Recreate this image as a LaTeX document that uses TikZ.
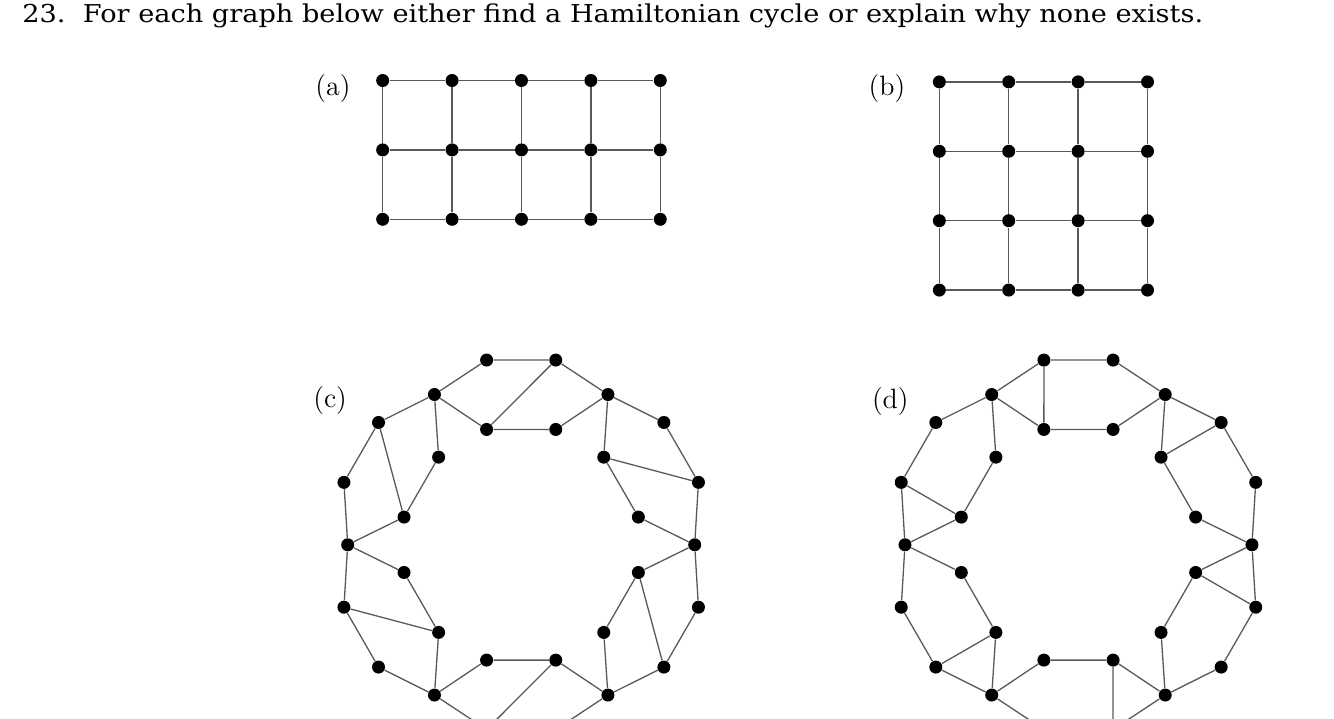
\documentclass[tikz,border=0pt]{standalone}
\usepackage{fontspec}
\newfontfamily\titlefont[FakeStretch=1.105]{DejaVu Serif}

\begin{document}
\begin{tikzpicture}[
    x=34.7pt, y=34.7pt,
    vertex/.style={circle, fill=black, inner sep=0pt, minimum size=6.5pt},
    edge/.style={draw=black!65, line width=0.65pt},
    every node/.style={font=\fontsize{14}{16}\selectfont}
]
\useasboundingbox (0,0) rectangle (19.222,10.360);
\clip (0,0) rectangle (19.222,10.360);

% Question
\node[anchor=base west, inner sep=0pt, font=\titlefont\fontsize{12.3}{14}\selectfont]
    (title) at (0.317,10.036)
    {23.\ \ For each graph below either find a Hamiltonian cycle or explain why none exists.};

% Part labels
\node[anchor=base west, inner sep=0pt] (la) at (4.54,8.977) {(a)};
\node[anchor=base west, inner sep=0pt] (lb) at (12.51,8.977) {(b)};
\node[anchor=base west, inner sep=0pt] (lc) at (4.51,4.481) {(c)};
\node[anchor=base west, inner sep=0pt] (ld) at (12.56,4.477) {(d)};

% (a) 5 x 3 grid
\foreach \i in {0,...,4}
  \foreach \j in {0,...,2}
    \node[vertex] (a-\i-\j) at (5.514+\i,7.2+\j) {};
\foreach \i in {0,...,3} {
  \pgfmathtruncatemacro\k{\i+1}
  \foreach \j in {0,...,2}
    \draw[edge] (a-\i-\j) -- (a-\k-\j);
}
\foreach \i in {0,...,4}
  \foreach \j in {0,1} {
    \pgfmathtruncatemacro\k{\j+1}
    \draw[edge] (a-\i-\j) -- (a-\i-\k);
  }

% (b) 4 x 4 grid
\foreach \i in {0,...,3}
  \foreach \j in {0,...,3}
    \node[vertex] (b-\i-\j) at (13.535+\i,6.18+\j) {};
\foreach \i in {0,...,2} {
  \pgfmathtruncatemacro\k{\i+1}
  \foreach \j in {0,...,3} {
    \draw[edge] (b-\i-\j) -- (b-\k-\j);
    \draw[edge] (b-\j-\i) -- (b-\j-\k);
  }
}

% (c) and (d): six hubs, a hexagon between each pair, one chord each
\foreach \r/\cx/\ch in {c/7.51/l, d/15.54/h} {
  \begin{scope}[shift={(\cx,2.51)}]
    \foreach \i in {0,...,5} {
      \pgfmathsetmacro\t{60*\i+30}
      \node[vertex] (\r-h\i) at (\t-30:2.5) {};
      \node[vertex] (\r-ol\i) at (\t-10.6:2.708) {};
      \node[vertex] (\r-oh\i) at (\t+10.6:2.708) {};
      \node[vertex] (\r-il\i) at (\t-16.7:1.735) {};
      \node[vertex] (\r-ih\i) at (\t+16.7:1.735) {};
    }
  \end{scope}
  \foreach \i in {0,...,5} {
    \pgfmathtruncatemacro\j{mod(\i+1,6)}
    \draw[edge] (\r-h\i) -- (\r-ol\i) -- (\r-oh\i) -- (\r-h\j);
    \draw[edge] (\r-h\i) -- (\r-il\i) -- (\r-ih\i) -- (\r-h\j);
    \draw[edge] (\r-o\ch\i) -- (\r-ih\i);
  }
}

\end{tikzpicture}
\end{document}
